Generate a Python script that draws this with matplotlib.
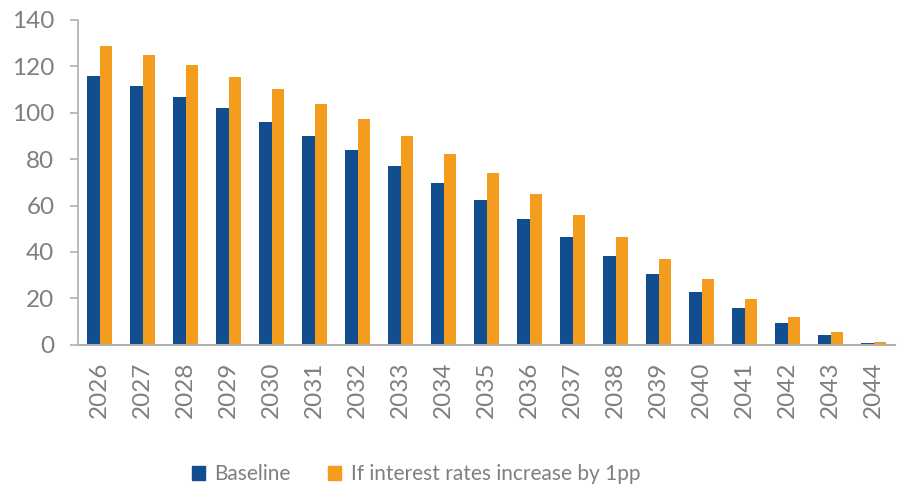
import numpy as np
import matplotlib.pyplot as plt
from matplotlib.patches import Patch

years = [str(y) for y in range(2026, 2045)]
baseline = [115.8, 111.5, 106.9, 101.9, 96.1, 90.2, 83.8, 76.9, 69.6, 62.3,
            54.4, 46.3, 38.4, 30.4, 22.9, 16.0, 9.6, 4.3, 0.6]
rate_up = [128.9, 125.0, 120.6, 115.6, 110.1, 103.9, 97.4, 90.1, 82.2, 74.0,
           65.0, 56.1, 46.5, 37.1, 28.2, 19.7, 11.9, 5.6, 1.0]

blue = '#114D8F'
orange = '#F39C1E'
grey = '#7F7F7F'

plt.rcParams['font.family'] = ['Lato', 'DejaVu Sans']

fig = plt.figure(figsize=(8.97, 4.87), dpi=100)
ax = fig.add_axes([0.087, 0.292, 0.911, 0.667])

x = np.arange(len(years))
w = 0.29
ax.bar(x - w / 2, baseline, w, color=blue, linewidth=0)
ax.bar(x + w / 2, rate_up, w, color=orange, linewidth=0)

ax.set_xlim(-0.5, len(years) - 0.5)
ax.set_ylim(0, 140)
ax.set_yticks(range(0, 141, 20))
ax.set_xticks(x)
ax.set_xticklabels(years, rotation=90)

for s in ['top', 'right']:
    ax.spines[s].set_visible(False)
ax.spines['left'].set_color('#B0B0B0')
ax.spines['bottom'].set_color('#B0B0B0')
ax.spines['left'].set_linewidth(1.2)
ax.spines['bottom'].set_linewidth(1.5)

ax.tick_params(axis='y', colors='#B0B0B0', labelcolor=grey, labelsize=17.5,
               length=6, width=1.2, pad=11)
ax.tick_params(axis='x', length=0, labelcolor=grey, labelsize=17.5, pad=12)

handles = [Patch(color=blue, label='Baseline'),
           Patch(color=orange, label='If interest rates increase by 1pp')]
fig.legend(handles=handles, loc='center', bbox_to_anchor=(0.464, 0.026),
           ncol=2, frameon=False, fontsize=15, labelcolor=grey,
           handlelength=0.62, handleheight=0.62, handletextpad=0.45,
           columnspacing=1.8)

fig.savefig('out.png', dpi=100)
